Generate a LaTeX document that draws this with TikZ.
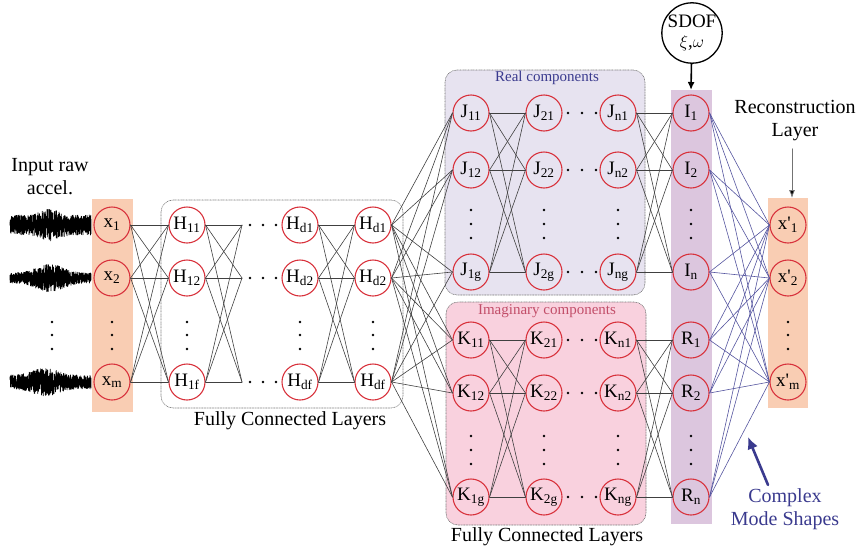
\documentclass[tikz,border=0pt]{standalone}
\usepackage{fontspec}
\setmainfont{Liberation Serif}
\usetikzlibrary{arrows.meta}
\definecolor{netRed}{HTML}{D8323C}
\definecolor{netLink}{HTML}{404040}
\definecolor{netBlue}{HTML}{55559F}
\definecolor{netNavy}{HTML}{3A3A8E}
\definecolor{netOrange}{HTML}{F9CDB3}
\definecolor{netMauve}{HTML}{DCC6DE}
\definecolor{netLilac}{HTML}{E7E3F0}
\definecolor{netPink}{HTML}{F9D1DE}
\definecolor{netRose}{HTML}{C24E69}
\definecolor{netGrid}{HTML}{707070}
\begin{document}
\begin{tikzpicture}[x=1pt,y=-1pt,>=Latex,line cap=round,line join=round]
\useasboundingbox (0,0) rectangle (856,549);
\tikzset{neuron/.style={circle,draw=netRed,line width=1.1pt,minimum size=36pt,inner sep=0pt,font=\fontsize{19}{21}\selectfont},link/.style={draw=netLink,line width=0.6pt},modelink/.style={draw=netBlue,line width=0.6pt},wave/.style={draw=black,line width=0.7pt},group/.style={draw=netGrid,densely dotted,line width=0.6pt,rounded corners=12pt},txt/.style={font=\fontsize{20}{23}\selectfont}}
% bars and group boxes
\path[fill=netOrange] (92,199) rectangle (133,412);
\path[fill=netOrange] (768,198) rectangle (808,408);
\path[fill=netMauve] (671,90) rectangle (712,524);
\draw[group] (161,200) rectangle (403,408);
\draw[group,fill=netLilac] (445,70) rectangle (645,295);
\draw[group,fill=netPink] (446,302) rectangle (646,525);
% raw signals
\pgfmathsetseed{11}
\draw[wave] plot[domain=10:91,samples=800] (\x,{225+(10+6*exp(-((\x-50)^2)/150))*rand});
\draw[wave] plot[domain=10:91,samples=800] (\x,{278+(5+9*exp(-((\x-50)^2)/350))*rand});
\draw[wave] plot[domain=10:91,samples=800] (\x,{382+(7+7*exp(-((\x-45)^2)/300))*rand});
% input, hidden and output layers
\foreach \n/\y/\s in {1/225/1,2/278/2,3/382/m}{
  \node[neuron] (xa\n) at (112,\y) {x\textsubscript{\s}};
  \node[neuron] (xb\n) at (788,\y) {x\textquotesingle\textsubscript{\s}};}
\foreach \n/\y/\s/\d in {1/225/11/d1,2/278/12/d2,3/382/1f/df}{
  \node[neuron] (ha\n) at (187,\y) {H\textsubscript{\s}};
  \coordinate (hp\n) at (242,\y);
  \node[neuron] (hb\n) at (300,\y) {H\textsubscript{\d}};
  \node[neuron] (hc\n) at (373,\y) {H\textsubscript{\d}};}
\foreach \n/\y/\s in {1/113/1,2/170/2,3/272/g}{
  \node[neuron] (ja\n) at (471,\y) {J\textsubscript{1\s}};
  \node[neuron] (jb\n) at (544,\y) {J\textsubscript{2\s}};
  \node[neuron] (jc\n) at (618,\y) {J\textsubscript{n\s}};}
\foreach \n/\y/\s in {1/340/1,2/393/2,3/497/g}{
  \node[neuron] (ka\n) at (471,\y) {K\textsubscript{1\s}};
  \node[neuron] (kb\n) at (544,\y) {K\textsubscript{2\s}};
  \node[neuron] (kc\n) at (618,\y) {K\textsubscript{n\s}};}
\foreach \n/\y/\s in {1/113/1,2/170/2,3/272/n}
  \node[neuron] (ia\n) at (691,\y) {I\textsubscript{\s}};
\foreach \n/\y/\s in {1/340/1,2/393/2,3/497/n}
  \node[neuron] (ra\n) at (691,\y) {R\textsubscript{\s}};
% dots
\foreach \x in {52,112,187,300,373,788}
  \foreach \y in {322,335,349} \fill (\x,\y) circle (1.4);
\foreach \x in {471,544,618,691}
  \foreach \y in {210,224,238,436,450,464} \fill (\x,\y) circle (1.4);
\foreach \y in {225,278,382}
  \foreach \x in {250,263,276} \fill (\x,\y) circle (1.4);
\foreach \y in {113,170,272,340,393,497}
  \foreach \x in {568,582,596} \fill (\x,\y) circle (1.4);
% connections
\foreach \a in {1,2,3}{\foreach \b in {1,2,3}{
  \draw[link] (xa\a.east) -- (ha\b.west);
  \draw[link] (ha\a.east) -- (hp\b);
  \draw[link] (hb\a.east) -- (hc\b.west);
  \draw[link] (hc\a.east) -- (ja\b.west);
  \draw[link] (hc\a.east) -- (ka\b.west);
  \draw[link] (ja\a.east) -- (jb\b.west);
  \draw[link] (ka\a.east) -- (kb\b.west);
  \draw[link] (jc\a.east) -- (ia\b.west);
  \draw[link] (kc\a.east) -- (ra\b.west);
  \draw[modelink] (ia\a.east) -- (xb\b.west);
  \draw[modelink] (ra\a.east) -- (xb\b.west);}}
% labels
\node[txt,align=center] (rawtxt) at (50,177) {Input raw\\accel.};
\node[txt] (fcla) at (290,421) {Fully Connected Layers};
\node[txt] (fclb) at (547,537) {Fully Connected Layers};
\node[font=\fontsize{15}{17}\selectfont,text=netNavy] (realtxt) at (547,78) {Real components};
\node[font=\fontsize{15}{17}\selectfont,text=netRose] (imagtxt) at (547,311) {Imaginary components};
\node[circle,draw=black,line width=1.3pt,minimum size=56pt,inner sep=0pt,align=center,font=\fontsize{19}{20}\selectfont] (sdof) at (692,33) {SDOF\\$\xi$,$\omega$};
\coordinate (bartop) at (691,90);
\draw[line width=1.6pt,-{Latex[length=8pt,width=7pt]}] (sdof) -- (bartop);
\node[txt,align=center] (recon) at (795,121) {Reconstruction\\Layer};
\coordinate (xbtop) at (792,198);
\draw[draw=black!55,line width=0.8pt,shorten <=4pt,-{Latex[length=8pt,width=6pt,fill=black]}] (recon.south -| xbtop) -- (xbtop);
\node[txt,align=center,text=netNavy] (cmstxt) at (785,509) {Complex\\Mode Shapes};
\coordinate (cmstip) at (748,437);
\draw[netNavy,line width=2.6pt,-{Latex[length=12pt,width=11pt]}] ([xshift=-17pt]cmstxt.north) -- (cmstip);
\end{tikzpicture}
\end{document}
